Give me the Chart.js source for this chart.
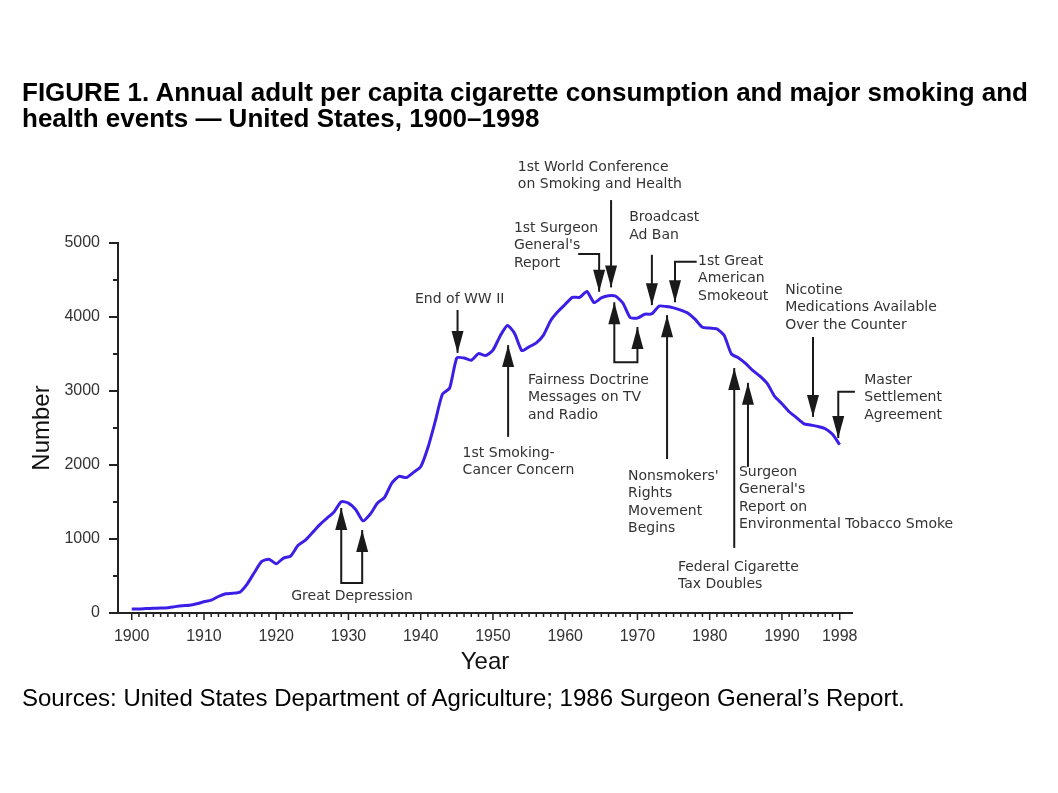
<!DOCTYPE html>
<html>
<head>
<meta charset="utf-8">
<title>Cigarette consumption 1900-1998</title>
<script src="https://cdn.jsdelivr.net/npm/chart.js@4.4.0/dist/chart.umd.min.js"></script>
<style>
  html, body { margin: 0; padding: 0; background: #fff; }
  #wrap { position: relative; width: 1058px; height: 793px; overflow: hidden; }
  #chartBox { position: absolute; left: 0; top: 0; width: 1058px; height: 793px; }
  .title {
    position: absolute; left: 22px; top: 79px;
    font: bold 26px "Liberation Sans", Arial, sans-serif; line-height: 26px;
    color: #000; white-space: nowrap;
  }
  .source {
    position: absolute; left: 22px; top: 684px;
    font: 24px "Liberation Sans", Arial, sans-serif; line-height: 28px;
    color: #000; white-space: nowrap;
  }
</style>
</head>
<body>
<div id="wrap">
  <div id="chartBox"><canvas id="smokingCanvas"></canvas></div>
  <div class="title">FIGURE 1. Annual adult per capita cigarette consumption and major smoking and<br>health events — United States, 1900–1998</div>
  <div class="source">Sources: United States Department of Agriculture; 1986 Surgeon General’s Report.</div>
</div>
<script>
// anos e consumo per capita
const years = [
  1900, 1901, 1902, 1903, 1904, 1905, 1906, 1907, 1908, 1909,
  1910, 1911, 1912, 1913, 1914, 1915, 1916, 1917, 1918, 1919,
  1920, 1921, 1922, 1923, 1924, 1925, 1926, 1927, 1928, 1929,
  1930, 1931, 1932, 1933, 1934, 1935, 1936, 1937, 1938, 1939,
  1940, 1941, 1942, 1943, 1944, 1945, 1946, 1947, 1948, 1949,
  1950, 1951, 1952, 1953, 1954, 1955, 1956, 1957, 1958, 1959,
  1960, 1961, 1962, 1963, 1964, 1965, 1966, 1967, 1968, 1969,
  1970, 1971, 1972, 1973, 1974, 1975, 1976, 1977, 1978, 1979,
  1980, 1981, 1982, 1983, 1984, 1985, 1986, 1987, 1988, 1989,
  1990, 1991, 1992, 1993, 1994, 1995, 1996, 1997, 1998
];
const consumption = [
  54, 53, 60, 64, 66, 70, 86, 99, 105, 125,
  151, 173, 223, 260, 267, 285, 395, 551, 697, 727,
  665, 742, 770, 911, 982, 1085, 1191, 1279, 1366, 1504,
  1485, 1399, 1245, 1334, 1483, 1564, 1754, 1847, 1830, 1900,
  1976, 2236, 2585, 2956, 3039, 3449, 3446, 3416, 3505, 3480,
  3552, 3744, 3886, 3778, 3546, 3597, 3650, 3755, 3953, 4073,
  4171, 4266, 4265, 4345, 4194, 4259, 4287, 4280, 4186, 3993,
  3985, 4037, 4043, 4148, 4141, 4123, 4092, 4051, 3967, 3861,
  3851, 3840, 3753, 3502, 3446, 3370, 3274, 3197, 3096, 2926,
  2828, 2720, 2641, 2560, 2540, 2520, 2490, 2415, 2275
];

const xTickLabels = [1900, 1910, 1920, 1930, 1940, 1950, 1960, 1970, 1980, 1990, 1998];
const yTickLabels = [0, 1000, 2000, 3000, 4000, 5000];

// eventos: caminho da seta em [ano, valor] (último ponto = ponta) e texto
const events = [
  { path: [[1929.0, 1420], [1929.0, 405], [1931.9, 405], [1931.9, 1120]], heads: 'both',
    at: [1930.5, 230], align: 'center', lines: ['Great Depression'] },
  { path: [[1945.1, 4095], [1945.1, 3515]], heads: 'end',
    at: [1945.4, 4245], align: 'center', lines: ['End of WW II'] },
  { path: [[1952.1, 2380], [1952.1, 3620]], heads: 'end',
    at: [1945.8, 2160], align: 'left', lines: ['1st Smoking-', 'Cancer Concern'] },
  { path: [[1966.8, 4200], [1966.8, 3390], [1970.0, 3390], [1970.0, 3865]], heads: 'both',
    at: [1954.85, 3150], align: 'left', lines: ['Fairness Doctrine', 'Messages on TV', 'and Radio'] },
  { path: [[1961.8, 4850], [1964.7, 4850], [1964.7, 4340]], heads: 'end',
    at: [1952.9, 5200], align: 'left', lines: ['1st Surgeon', "General's", 'Report'] },
  { path: [[1966.35, 5580], [1966.35, 4400]], heads: 'end',
    at: [1953.45, 6025], align: 'left', lines: ['1st World Conference', 'on Smoking and Health'] },
  { path: [[1972.0, 4840], [1972.0, 4160]], heads: 'end',
    at: [1968.85, 5340], align: 'left', lines: ['Broadcast', 'Ad Ban'] },
  { path: [[1978.2, 4745], [1975.2, 4745], [1975.2, 4200]], heads: 'end',
    at: [1978.4, 4757], align: 'left', lines: ['1st Great', 'American', 'Smokeout'] },
  { path: [[1974.1, 2080], [1974.1, 4025]], heads: 'end',
    at: [1968.7, 1850], align: 'left', lines: ["Nonsmokers'", 'Rights', 'Movement', 'Begins'] },
  { path: [[1983.4, 880], [1983.4, 3310]], heads: 'end',
    at: [1975.6, 620], align: 'left', lines: ['Federal Cigarette', 'Tax Doubles'] },
  { path: [[1985.3, 1975], [1985.3, 3110]], heads: 'end',
    at: [1984.05, 1905], align: 'left', lines: ['Surgeon', "General's", 'Report on', 'Environmental Tobacco Smoke'] },
  { path: [[1994.3, 3730], [1994.3, 2650]], heads: 'end',
    at: [1990.45, 4365], align: 'left', lines: ['Nicotine', 'Medications Available', 'Over the Counter'] },
  { path: [[2000.1, 2990], [1997.8, 2990], [1997.8, 2365]], heads: 'end',
    at: [2001.4, 3150], align: 'left', lines: ['Master', 'Settlement', 'Agreement'] }
];

const tickFont = { family: '"Liberation Sans", Arial, sans-serif', size: 16 };

// desenha uma ponta de seta em (x2,y2) vinda de (x1,y1)
function drawHead(ctx, x1, y1, x2, y2) {
  const ang = Math.atan2(y2 - y1, x2 - x1);
  const len = 22, half = 6;
  ctx.beginPath();
  ctx.moveTo(x2, y2);
  ctx.lineTo(x2 - len * Math.cos(ang) + half * Math.sin(ang), y2 - len * Math.sin(ang) - half * Math.cos(ang));
  ctx.lineTo(x2 - len * Math.cos(ang) - half * Math.sin(ang), y2 - len * Math.sin(ang) + half * Math.cos(ang));
  ctx.closePath();
  ctx.fill();
}

const eventsPlugin = {
  id: 'smokingEvents',
  afterDraw(chart) {
    const { ctx, scales: { x, y } } = chart;
    ctx.save();

    // marcas dos eixos
    ctx.strokeStyle = '#222';
    ctx.lineWidth = 1.5;
    x.ticks.forEach(t => {
      const px = x.getPixelForValue(t.value);
      const len = xTickLabels.includes(t.value) ? 7 : 4;
      ctx.beginPath();
      ctx.moveTo(px, y.bottom);
      ctx.lineTo(px, y.bottom + len);
      ctx.stroke();
    });
    ctx.lineWidth = 2;
    y.ticks.forEach(t => {
      const py = y.getPixelForValue(t.value);
      const len = yTickLabels.includes(t.value) ? 9 : 5;
      ctx.beginPath();
      ctx.moveTo(x.left - len, py);
      ctx.lineTo(x.left, py);
      ctx.stroke();
    });

    // setas e textos dos eventos
    events.forEach(ev => {
      const pts = ev.path.map(([yr, v]) => [x.getPixelForValue(yr), y.getPixelForValue(v)]);
      ctx.strokeStyle = '#1a1a1a';
      ctx.fillStyle = '#1a1a1a';
      ctx.lineWidth = 2;
      ctx.beginPath();
      pts.forEach(([px, py], i) => (i === 0 ? ctx.moveTo(px, py) : ctx.lineTo(px, py)));
      ctx.stroke();
      const n = pts.length;
      drawHead(ctx, pts[n - 2][0], pts[n - 2][1], pts[n - 1][0], pts[n - 1][1]);
      if (ev.heads === 'both') {
        drawHead(ctx, pts[1][0], pts[1][1], pts[0][0], pts[0][1]);
      }

      ctx.fillStyle = '#333';
      ctx.font = '14px "DejaVu Sans", sans-serif';
      ctx.textAlign = ev.align;
      ctx.textBaseline = 'middle';
      const lx = x.getPixelForValue(ev.at[0]);
      const ly = y.getPixelForValue(ev.at[1]);
      ev.lines.forEach((txt, i) => ctx.fillText(txt, lx, ly + i * 17.5));
    });

    ctx.restore();
  }
};

const smokingCanvas = document.getElementById('smokingCanvas');

new Chart(smokingCanvas, {
  type: 'line',
  data: {
    datasets: [{
      label: 'Per capita consumption',
      data: years.map((yr, i) => ({ x: yr, y: consumption[i] })),
      borderColor: '#3c1fe6',
      backgroundColor: '#3c1fe6',
      borderWidth: 3,
      pointRadius: 0,
      tension: 0.2,
      fill: false
    }]
  },
  options: {
    responsive: true,
    maintainAspectRatio: false,
    animation: false,
    layout: { padding: { left: 0, top: 243, right: 206, bottom: 100 } },
    plugins: {
      legend: { display: false },
      tooltip: { enabled: false },
      title: { display: false }
    },
    scales: {
      x: {
        type: 'linear',
        min: 1898.1,
        max: 1999.7,
        afterBuildTicks: scale => {
          const ticks = [];
          for (let yr = 1900; yr <= 1998; yr++) ticks.push({ value: yr });
          scale.ticks = ticks;
        },
        afterFit: scale => { scale.height = 80; },
        grid: { display: false, drawTicks: false },
        border: { display: true, color: '#222', width: 2 },
        ticks: {
          autoSkip: false,
          maxRotation: 0,
          padding: 14,
          color: '#333',
          font: tickFont,
          callback: v => (xTickLabels.includes(v) ? String(v) : '')
        },
        title: {
          display: true,
          text: 'Year',
          color: '#111',
          font: { family: '"Liberation Sans", Arial, sans-serif', size: 24 },
          padding: { top: 0, bottom: 16 }
        }
      },
      y: {
        min: 0,
        max: 5000,
        afterFit: scale => { scale.width = 118; },
        grid: { display: false, drawTicks: false },
        border: { display: true, color: '#222', width: 2 },
        ticks: {
          stepSize: 500,
          padding: 18,
          color: '#333',
          font: tickFont,
          callback: v => (yTickLabels.includes(v) ? String(v) : '')
        },
        title: {
          display: true,
          text: 'Number',
          color: '#111',
          font: { family: '"Liberation Sans", Arial, sans-serif', size: 24 },
          padding: { top: 28, bottom: 0 }
        }
      }
    }
  },
  plugins: [eventsPlugin]
});
</script>
</body>
</html>
